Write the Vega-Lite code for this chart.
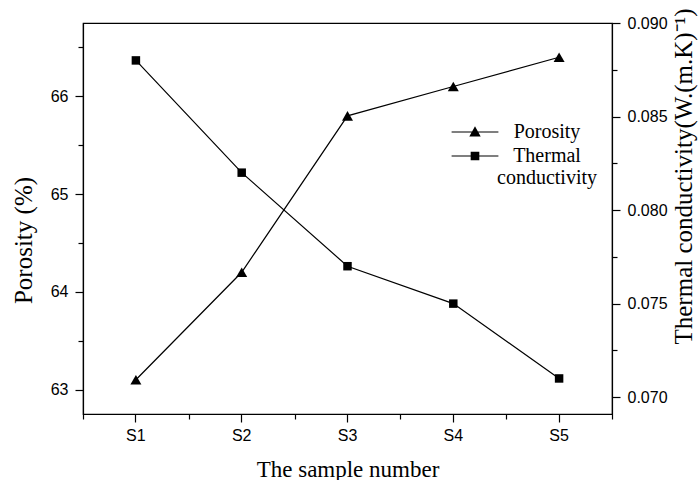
{
  "$schema": "https://vega.github.io/schema/vega-lite/v6.json",
  "width": 529,
  "height": 391,
  "autosize": {"type": "none"},
  "padding": {"left": 83, "top": 23, "right": 86, "bottom": 66},
  "background": "white",
  "config": {
    "view": {"stroke": "black", "strokeWidth": 1.2},
    "axis": {
      "domainColor": "black",
      "domainWidth": 1.2,
      "tickColor": "black",
      "tickWidth": 1.2,
      "labelColor": "black",
      "labelFont": "Liberation Sans",
      "labelFontSize": 16,
      "titleFont": "Liberation Serif",
      "titleFontWeight": "normal",
      "titleColor": "black",
      "grid": false
    }
  },
  "data": {
    "values": [
      {"sample": "S1", "porosity": 63.1, "conductivity": 0.088},
      {"sample": "S2", "porosity": 64.2, "conductivity": 0.082},
      {"sample": "S3", "porosity": 65.8, "conductivity": 0.077},
      {"sample": "S4", "porosity": 66.1, "conductivity": 0.075},
      {"sample": "S5", "porosity": 66.4, "conductivity": 0.071}
    ]
  },
  "layer": [
    {
      "mark": {"type": "line", "color": "black", "strokeWidth": 1.2},
      "encoding": {
        "x": {
          "field": "sample", "type": "ordinal",
          "scale": {"type": "band", "paddingInner": 0, "paddingOuter": 0, "domain": ["S1", "S2", "S3", "S4", "S5"]},
          "axis": {"orient": "bottom", "title": "The sample number", "titleFontSize": 23, "titleBaseline": "alphabetic", "titleY": 62, "tickSize": 8, "labelPadding": 5, "labelAngle": 0}
        },
        "y": {
          "field": "porosity", "type": "quantitative",
          "scale": {"domain": [62.75, 66.75], "zero": false, "nice": false},
          "axis": {"orient": "left", "values": [63, 64, 65, 66], "format": "d", "tickSize": 8, "labelPadding": 7, "title": "Porosity (%)", "titleFontSize": 25, "titleAngle": -90, "titleBaseline": "middle", "titleX": -60, "titleY": 217}
        }
      }
    },
    {
      "mark": {"type": "point", "shape": "triangle-up", "filled": true, "color": "black", "opacity": 1, "size": 121},
      "encoding": {
        "x": {
          "field": "sample", "type": "ordinal",
          "scale": {"type": "band", "paddingInner": 0, "paddingOuter": 0, "domain": ["S1", "S2", "S3", "S4", "S5"]},
          "axis": {"orient": "bottom", "tickBand": "extent", "labels": false, "domain": false, "title": null, "tickSize": 5}
        },
        "y": {
          "field": "porosity", "type": "quantitative",
          "scale": {"domain": [62.75, 66.75], "zero": false, "nice": false},
          "axis": {"orient": "left", "values": [63.5, 64.5, 65.5, 66.5], "labels": false, "domain": false, "title": null, "tickSize": 5}
        }
      }
    },
    {
      "mark": {"type": "line", "color": "black", "strokeWidth": 1.2},
      "encoding": {
        "x": {
          "field": "sample", "type": "ordinal",
          "scale": {"type": "band", "paddingInner": 0, "paddingOuter": 0, "domain": ["S1", "S2", "S3", "S4", "S5"]},
          "axis": null
        },
        "y": {
          "field": "conductivity", "type": "quantitative",
          "scale": {"domain": [0.0691, 0.09], "zero": false, "nice": false},
          "axis": {"orient": "right", "values": [0.07, 0.075, 0.08, 0.085, 0.09], "format": ".3f", "tickSize": 8, "labelPadding": 7, "title": "Thermal conductivity(W.(m.K)⁻¹)", "titleFontSize": 25, "titleAngle": -90, "titleBaseline": "middle", "titleX": 71, "titleY": 153}
        }
      }
    },
    {
      "mark": {"type": "point", "shape": "square", "filled": true, "color": "black", "opacity": 1, "size": 72},
      "encoding": {
        "x": {
          "field": "sample", "type": "ordinal",
          "scale": {"type": "band", "paddingInner": 0, "paddingOuter": 0, "domain": ["S1", "S2", "S3", "S4", "S5"]},
          "axis": null
        },
        "y": {
          "field": "conductivity", "type": "quantitative",
          "scale": {"domain": [0.0691, 0.09], "zero": false, "nice": false},
          "axis": {"orient": "right", "values": [0.0725, 0.0775, 0.0825, 0.0875], "labels": false, "domain": false, "title": null, "tickSize": 5}
        }
      }
    },
    {
      "data": {"values": [{"series": "Porosity"}, {"series": "Thermal conductivity"}]},
      "mark": {"type": "point", "filled": true, "color": "black", "opacity": 0, "size": 144},
      "encoding": {
        "shape": {
          "field": "series", "type": "nominal",
          "scale": {
            "domain": ["Porosity", "Thermal conductivity"],
            "range": [
              "M-3.9,-0.09H3.9V0.09H-3.9Z M0,-0.95L0.95,0.75H-0.95Z",
              "M-3.9,-0.09H3.9V0.09H-3.9Z M-0.72,-0.72H0.72V0.72H-0.72Z"
            ]
          },
          "legend": {
            "orient": "none",
            "legendX": 382,
            "legendY": 99,
            "title": null,
            "symbolOpacity": 1,
            "symbolFillColor": "black",
            "symbolStrokeColor": "black",
            "symbolStrokeWidth": 0,
            "symbolSize": 144,
            "labelFont": "Liberation Serif",
            "labelFontSize": 20,
            "labelColor": "black",
            "labelAlign": "center",
            "labelOffset": 62,
            "labelLimit": 300,
            "rowPadding": 4,
            "labelExpr": "datum.label == 'Thermal conductivity' ? ['Thermal', 'conductivity'] : datum.label",
            "encode": {"labels": {"update": {"lineHeight": {"value": 25}}}}
          }
        }
      }
    }
  ],
  "resolve": {
    "scale": {"x": "independent", "y": "independent"},
    "axis": {"x": "independent", "y": "independent"}
  }
}
